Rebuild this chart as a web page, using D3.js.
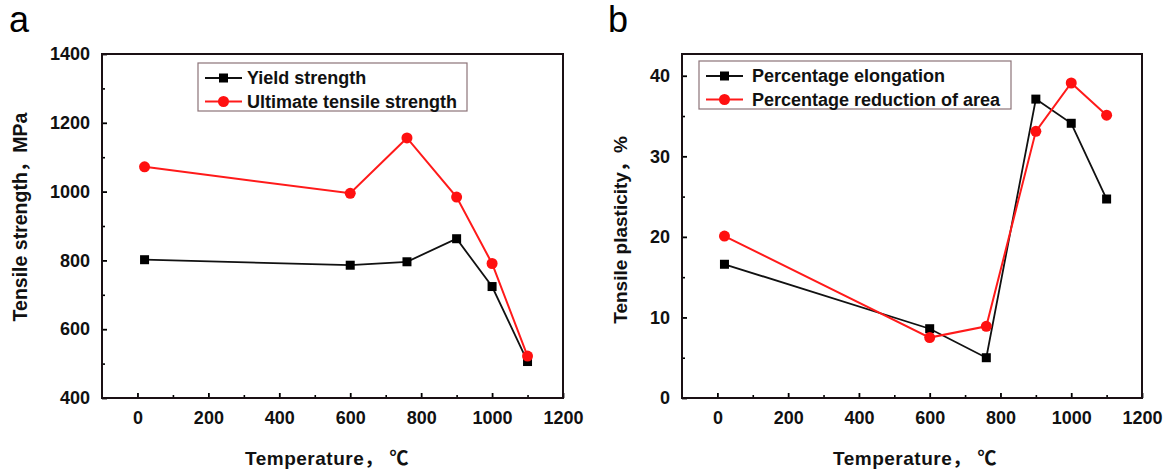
<!DOCTYPE html>
<html><head><meta charset="utf-8">
<script src="https://cdn.jsdelivr.net/npm/d3@7"></script>
<style>
body{margin:0;background:#fff;}
text{font-family:"Liberation Sans",Arial,"Noto Sans CJK SC",sans-serif;}
</style></head>
<body><svg id="chart" width="1173" height="470"></svg>
<script>
const temps = [20, 600, 760, 900, 1000, 1100];
const yieldStrength = [802, 786, 796, 863, 724, 506];
const ultimateStrength = [1072, 995, 1156, 984, 791, 522];
const elongation = [16.6, 8.6, 5.0, 37.1, 34.1, 24.7];
const reductionArea = [20.1, 7.5, 8.9, 33.1, 39.1, 35.1];
const xTicks = [0, 200, 400, 600, 800, 1000, 1200];
const yTicksA = [400, 600, 800, 1000, 1200, 1400];
const yTicksB = [0, 10, 20, 30, 40];
const legendA = ["Yield strength", "Ultimate tensile strength"];
const legendB = ["Percentage elongation", "Percentage reduction of area"];

const svg = d3.select("#chart");

function panel(cfg){
  const g = svg.append("g");
  const x = d3.scaleLinear().domain([-100,1200]).range([cfg.left, cfg.right]);
  const y = d3.scaleLinear().domain(cfg.ydom).range([cfg.bottom, cfg.top]);
  const xMinor = d3.range(100, 1200, 200);
  g.append("g").attr("transform",`translate(0,${cfg.bottom})`)
    .call(d3.axisBottom(x).tickValues(xMinor).tickSize(-3).tickFormat(""))
    .call(s=>s.select(".domain").remove())
    .call(s=>s.selectAll("line").attr("stroke","#000").attr("stroke-width",1.6));
  g.append("g").attr("transform",`translate(${cfg.left},0)`)
    .call(d3.axisLeft(y).tickValues(cfg.yMinor).tickSize(-3).tickFormat(""))
    .call(s=>s.select(".domain").remove())
    .call(s=>s.selectAll("line").attr("stroke","#000").attr("stroke-width",1.6));
  g.append("g").attr("transform",`translate(0,${cfg.bottom})`)
    .call(d3.axisBottom(x).tickValues(xTicks).tickSize(-5).tickPadding(13.5).tickFormat(d3.format("d")))
    .call(s=>s.select(".domain").remove())
    .call(s=>s.selectAll("line").attr("stroke","#000").attr("stroke-width",1.8))
    .call(s=>s.selectAll("text").attr("font-size",18).attr("font-weight","bold").attr("fill","#111")
      .attr("font-family",'"Liberation Sans",Arial,sans-serif'));
  g.append("g").attr("transform",`translate(${cfg.left},0)`)
    .call(d3.axisLeft(y).tickValues(cfg.yTicks).tickSize(-5).tickPadding(12).tickFormat(d3.format("d")))
    .call(s=>s.select(".domain").remove())
    .call(s=>s.selectAll("line").attr("stroke","#000").attr("stroke-width",1.8))
    .call(s=>s.selectAll("text").attr("font-size",18).attr("font-weight","bold").attr("fill","#111")
      .attr("font-family",'"Liberation Sans",Arial,sans-serif'));
  g.append("rect").attr("x",cfg.left).attr("y",cfg.top)
    .attr("width",cfg.right-cfg.left).attr("height",cfg.bottom-cfg.top)
    .attr("fill","none").attr("stroke","#1a1014").attr("stroke-width",2);

  const line = d3.line().x(d=>x(d[0])).y(d=>y(d[1]));
  const s1 = temps.map((t,i)=>[t,cfg.s1[i]]);
  const s2 = temps.map((t,i)=>[t,cfg.s2[i]]);
  g.append("path").datum(s1).attr("d",line).attr("fill","none").attr("stroke","#111").attr("stroke-width",1.8);
  g.append("path").datum(s2).attr("d",line).attr("fill","none").attr("stroke","#ff1a1a").attr("stroke-width",2);
  g.selectAll(".sq").data(s1).join("rect")
    .attr("x",d=>x(d[0])-4.5).attr("y",d=>y(d[1])-4.5).attr("width",9).attr("height",9).attr("fill","#000");
  g.selectAll(".ci").data(s2).join("circle")
    .attr("cx",d=>x(d[0])).attr("cy",d=>y(d[1])).attr("r",5.5).attr("fill","#ff1010");

  const L = cfg.legend;
  g.append("rect").attr("x",L.x).attr("y",L.y).attr("width",L.w).attr("height",L.h)
    .attr("fill","#fff").attr("stroke","#8c7378").attr("stroke-width",1.2);
  const rows = [{c:"#111",m:"sq",t:cfg.names[0]},{c:"#ff1a1a",m:"ci",t:cfg.names[1]}];
  rows.forEach((r,i)=>{
    const yy = L.y + 15 + i*23.5;
    g.append("line").attr("x1",L.x+7).attr("x2",L.x+44).attr("y1",yy).attr("y2",yy)
      .attr("stroke",r.c).attr("stroke-width",1.8);
    if(r.m==="sq") g.append("rect").attr("x",L.x+25.5-4.5).attr("y",yy-4.5).attr("width",9).attr("height",9).attr("fill","#000");
    else g.append("circle").attr("cx",L.x+25.5).attr("cy",yy).attr("r",5.5).attr("fill","#ff1010");
    g.append("text").attr("x",L.x+cfg.textOff).attr("y",yy).attr("dy","0.35em")
      .attr("font-size",18).attr("font-weight","bold").attr("fill","#111").text(r.t);
  });

  g.append("text").attr("transform",`translate(${cfg.ytx},${cfg.yty}) rotate(-90)`)
    .attr("text-anchor","middle").attr("font-size",cfg.ytfs).attr("font-weight","bold").attr("fill","#111")
    .text(cfg.ytitle);
  g.append("text").attr("x",cfg.xtx).attr("y",465).attr("text-anchor","middle")
    .attr("font-size",19).attr("font-weight","bold").attr("fill","#111").attr("letter-spacing","0.5")
    .text("Temperature，\u00A0℃");
  g.append("text").attr("x",cfg.lx).attr("y",32).attr("font-size",36).attr("fill","#000").text(cfg.letter);
}

panel({left:102,right:563,top:54,bottom:398,ydom:[400,1400],yTicks:yTicksA,
  yMinor:d3.range(500,1400,200),s1:yieldStrength,s2:ultimateStrength,names:legendA,
  legend:{x:198,y:63,w:269,h:48},textOff:49,ytitle:"Tensile strength，MPa",ytfs:19.5,ytx:27,yty:217,xtx:327,lx:9,letter:"a"});
panel({left:682,right:1142,top:54,bottom:398,ydom:[0,42.7],yTicks:yTicksB,
  yMinor:[5,15,25,35],s1:elongation,s2:reductionArea,names:legendB,
  legend:{x:699,y:61,w:312,h:48},textOff:53,ytitle:"Tensile plasticity，%",ytfs:19,ytx:627,yty:230,xtx:915,lx:608,letter:"b"});
</script></body></html>
